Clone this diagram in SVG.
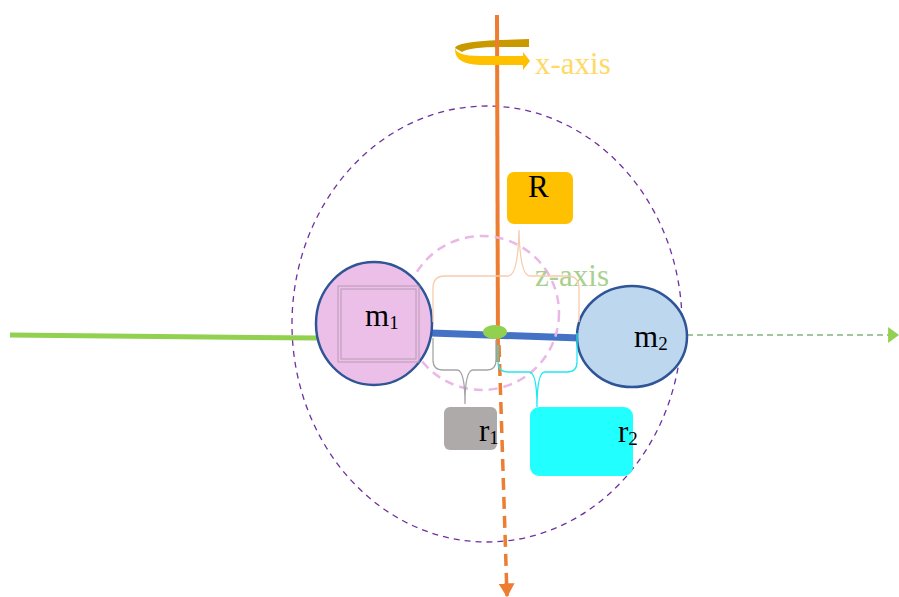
<svg xmlns="http://www.w3.org/2000/svg" width="899" height="597" viewBox="0 0 899 597">
<defs>
<style>
.lbl{font-family:"Liberation Serif","Times New Roman",serif;font-size:31px;fill:#000}
.sub{font-size:19px}
.mass{stroke:#2F5597;stroke-width:2.5}
.brace{fill:none;stroke-width:1.3}
</style>
<marker id="arrG" viewBox="0 0 10 10" preserveAspectRatio="none" refX="9" refY="5" markerWidth="11" markerHeight="16" markerUnits="userSpaceOnUse" orient="auto"><path d="M0,0 L10,5 L0,10 Z" fill="#92D050"/></marker>
<marker id="arrO" viewBox="0 0 10 10" preserveAspectRatio="none" refX="9" refY="5" markerWidth="14" markerHeight="16" markerUnits="userSpaceOnUse" orient="auto"><path d="M0,0 L10,5 L0,10 Z" fill="#ED7D31"/></marker>
</defs>
<rect width="899" height="597" fill="#fff"/>

<g id="orbit">
<ellipse cx="487" cy="324" rx="195" ry="218" fill="none" stroke="#7030A0" stroke-width="1.3" stroke-dasharray="6,5"/>
</g>

<g id="rotation-back">
<path d="M529,39 L500,40 Q456,42 455,48 L462,52 Q470,47 500,47 L529,47 Z" fill="#C99A00"/>
</g>

<g id="connectors">
<line x1="10" y1="335" x2="318" y2="338" stroke="#92D050" stroke-width="5"/>
<line x1="687" y1="335" x2="898" y2="335" stroke="#82B380" stroke-width="1.5" stroke-dasharray="6,4" marker-end="url(#arrG)"/>
<line x1="431" y1="333" x2="580" y2="338" stroke="#4472C4" stroke-width="7"/>
<line x1="497" y1="15" x2="498" y2="362" stroke="#ED7D31" stroke-width="4"/>
<line x1="499" y1="345" x2="507" y2="596" stroke="#ED7D31" stroke-width="3.5" stroke-dasharray="12,7" marker-end="url(#arrO)"/>
</g>

<g id="inner-circle">
<circle cx="482" cy="313" r="77" fill="none" stroke="#EBB7E6" stroke-width="2.5" stroke-dasharray="9,6"/>
</g>

<g id="rotation">
<path d="M455,47 Q455,56 480,56 L523,56 L523,52 L530,61 L523,70 L523,65 L480,65 Q455,64 455,50 Z" fill="#FFC000"/>
<text x="535" y="74" class="lbl" style="fill:#FFD966">x-axis</text>
</g>

<g id="z-axis">
<text x="535" y="286" class="lbl" style="fill:#A9D18E">z-axis</text>
</g>

<g id="m1">
<ellipse cx="374" cy="323.5" rx="58" ry="61.5" fill="#ECBFE8" class="mass"/>
<rect x="338" y="286" width="81" height="76" fill="none" stroke="#B79AB4" stroke-width="1"/>
<rect x="341" y="289" width="75" height="70" fill="none" stroke="#B79AB4" stroke-width="1"/>
<text x="365" y="326" class="lbl">m<tspan class="sub" dy="3">1</tspan></text>
</g>

<g id="m2">
<ellipse cx="632" cy="336.5" rx="55" ry="50.5" fill="#BDD7EE" class="mass"/>
<text x="634" y="347" class="lbl">m<tspan class="sub" dy="3">2</tspan></text>
</g>

<g id="pivot">
<ellipse cx="495" cy="332" rx="12" ry="7" fill="#92D050"/>
</g>

<g id="braces">
<path class="brace" stroke="#F8CBAD" d="M433,322 L433,288 Q433,276 445,276 L508,276 Q518,276 519,230 Q520,276 530,276 L567,276 Q579,276 579,288 L579,322"/>
<path class="brace" stroke="#A5A5A5" d="M433,338 L433,360 Q433,370 443,370 L457,370 Q465,370 465,404 Q465,370 473,370 L487,370 Q496,370 496,360 L496,340"/>
<path class="brace" stroke="#22E8F0" d="M498,345 L498,362 Q498,372 508,372 L529,372 Q537,372 537,407 Q537,372 545,372 L567,372 Q577,372 577,362 L577,333"/>
</g>

<g id="R">
<rect x="507" y="172" width="66" height="52" rx="7" fill="#FFC000"/>
<text x="528" y="197" class="lbl">R</text>
</g>

<g id="r1">
<rect x="444" y="407" width="53" height="43" rx="6" fill="#AEAAAA"/>
<text x="479" y="441" class="lbl">r<tspan class="sub" dy="3">1</tspan></text>
</g>

<g id="r2">
<rect x="530" y="407" width="103" height="69" rx="9" fill="#22FFFF"/>
<text x="618" y="442" class="lbl">r<tspan class="sub" dy="3">2</tspan></text>
</g>
</svg>
